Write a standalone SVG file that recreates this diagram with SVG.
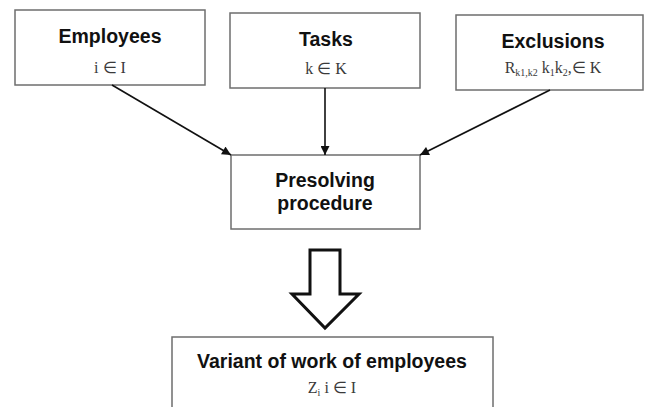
<svg xmlns="http://www.w3.org/2000/svg" width="646" height="407" viewBox="0 0 646 407">
  <style>
    .box { fill: #ffffff; stroke: #6e6e6e; stroke-width: 1.5; }
    .title { font-family: "Liberation Sans", Arial, sans-serif; font-weight: bold; font-size: 19.5px; fill: #111111; text-anchor: middle; }
    .math { font-family: "Liberation Serif", "Times New Roman", serif; font-size: 16px; fill: #3a3a3a; text-anchor: middle; }
    .sub { font-size: 10px; }
    .edge { stroke: #111111; stroke-width: 1.6; fill: none; marker-end: url(#head); }
  </style>
  <defs>
    <marker id="head" viewBox="0 0 10 10" refX="10" refY="5" markerWidth="10" markerHeight="9" markerUnits="userSpaceOnUse" orient="auto">
      <path d="M0,0 L10,5 L0,10 z" fill="#111111"/>
    </marker>
  </defs>
  <rect width="646" height="407" fill="#ffffff"/>

  <g id="employees">
    <rect class="box" x="15" y="10" width="190" height="75"/>
    <text class="title" x="110" y="43">Employees</text>
    <text class="math" x="110" y="73">i ∈ I</text>
  </g>

  <g id="tasks">
    <rect class="box" x="230" y="13" width="190" height="75"/>
    <text class="title" x="326" y="46">Tasks</text>
    <text class="math" x="326" y="74">k ∈ K</text>
  </g>

  <g id="exclusions">
    <rect class="box" x="456" y="15" width="187" height="75"/>
    <text class="title" x="553" y="48">Exclusions</text>
    <text class="math" x="553" y="73">R<tspan class="sub" dy="3">k1,k2</tspan><tspan dy="-3"> k</tspan><tspan class="sub" dy="3">1</tspan><tspan dy="-3">k</tspan><tspan class="sub" dy="3">2</tspan><tspan dy="-3">,∈ K</tspan></text>
  </g>

  <g id="presolving">
    <rect class="box" x="231" y="155" width="189" height="74"/>
    <text class="title" x="325" y="187">Presolving</text>
    <text class="title" x="325" y="210">procedure</text>
  </g>

  <g id="variant">
    <rect class="box" x="172" y="337" width="321" height="80"/>
    <text class="title" x="332" y="368">Variant of work of employees</text>
    <text class="math" x="332" y="393">Z<tspan class="sub" dy="3">i</tspan><tspan dy="-3">  i ∈ I</tspan></text>
  </g>

  <g id="connectors">
    <line class="edge" x1="112" y1="85" x2="231" y2="155"/>
    <line class="edge" x1="325" y1="88" x2="325" y2="155"/>
    <line class="edge" x1="550" y1="90" x2="420" y2="155"/>
    <path id="flow-arrow" d="M310,250 L340,250 L340,294 L359,294 L325,328 L292,294 L310,294 Z" fill="#ffffff" stroke="#111111" stroke-width="3" stroke-linejoin="miter"/>
  </g>
</svg>
